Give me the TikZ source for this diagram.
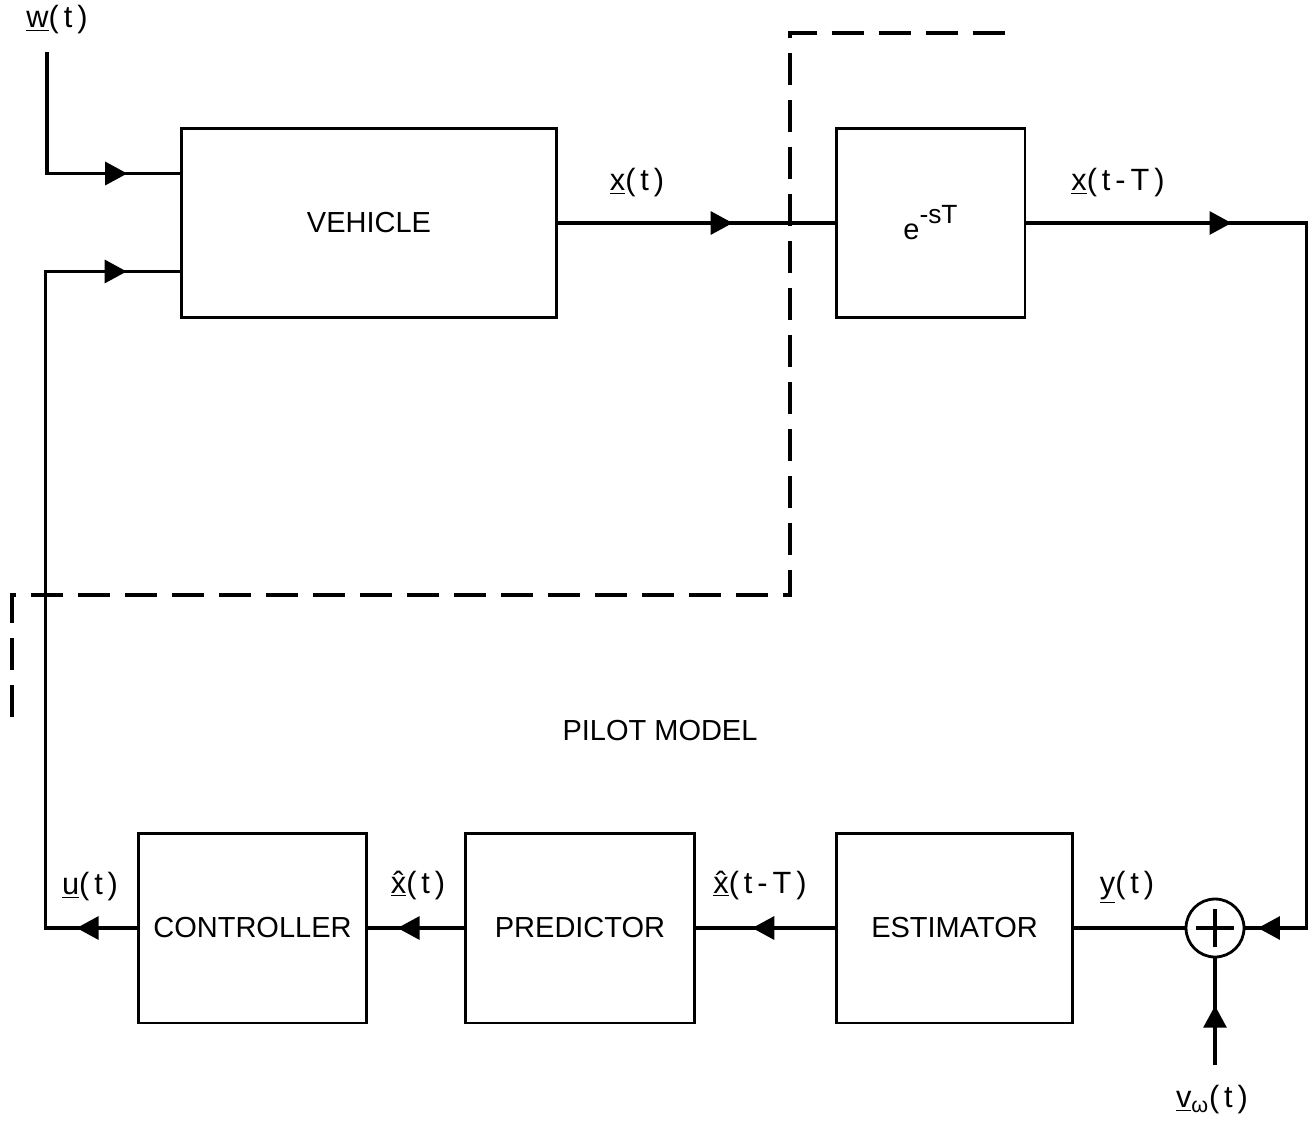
\documentclass[tikz,border=0pt]{standalone}
\usepackage{fontspec}
\setmainfont{Liberation Sans}
\newfontfamily\sigfont[LetterSpace=16]{Liberation Sans}
\usetikzlibrary{arrows.meta,calc,decorations.markings}
\newcommand{\uvec}[1]{\underline{#1}}

\begin{document}
\begin{tikzpicture}[x=0.02cm,y=-0.02cm,
  block/.style={draw,line width=1.7pt,minimum height=3.8cm,inner sep=0pt,
    font=\fontsize{16.5}{20}\selectfont},
  sig/.style={font=\sigfont\fontsize{17.5}{20}\selectfont},
  wire/.style={line width=1.8pt},
  arrowat/.style={postaction={decorate,decoration={markings,
    mark=at position #1 with {\arrow{Triangle[length=0.44cm,width=0.46cm]}}}}}]
  \useasboundingbox (0,0) rectangle (1315,1126);
  % blocks
  \node[block,minimum width=7.52cm] (veh) at (369,223) {VEHICLE};
  \node[block,minimum width=3.78cm] (delay) at (930.5,223)
    {e\raisebox{0.55em}{\fontsize{15}{16}\selectfont -sT}};
  \node[block,minimum width=4.58cm] (ctrl) at (252.5,928) {CONTROLLER};
  \node[block,minimum width=4.6cm] (pred) at (580,928) {PREDICTOR};
  \node[block,minimum width=4.74cm] (est) at (954.5,928) {ESTIMATOR};
  \node[draw,circle,line width=1.6pt,minimum size=1.16cm,inner sep=0pt] (sum) at (1215,928) {};
  \draw[wire] ([xshift=-0.38cm]sum.center) -- ([xshift=0.38cm]sum.center)
    ([yshift=-0.38cm]sum.center) -- ([yshift=0.38cm]sum.center);
  % signals
  \node[sig] (wlbl) at (57,20) {\uvec{w}(t)};
  \node[sig] (xlbl) at (637,183) {\uvec{x}(t)};
  \node[sig] (xdlbl) at (1118,183) {\uvec{x}(t-T)};
  \node[sig] (ulbl) at (90,887) {\uvec{u}(t)};
  \node[sig] (xhlbl) at (418,885) {\uvec{\^x}(t)};
  \node[sig] (xhdlbl) at (760,885) {\uvec{\^x}(t-T)};
  \node[sig] (ylbl) at (1127,887) {\uvec{y}(t)};
  \node[sig] (vlbl) at (1212,1100) {\uvec{v}\textsubscript{ω}(t)};
  \node[font=\fontsize{16.5}{20}\selectfont] (pilot) at (660,731) {PILOT MODEL};
  \coordinate (win) at (47,52);
  \coordinate (vin) at (1215,1065);
  % connectors
  \draw[wire,arrowat=0.794] (win) |- ([yshift=-0.94cm]veh.north west);
  \draw[wire,arrowat=0.068,arrowat=0.94] (ctrl.west) -- ++(-91,0) |- ([yshift=0.96cm]veh.south west);
  \draw[wire,arrowat=0.631] (veh) -- (delay);
  \draw[wire,arrowat=0.196,arrowat=0.988] (delay.east) -- ++(280,0) |- (sum.east);
  \draw[wire] (sum) -- (est);
  \draw[wire,arrowat=0.596] (est) -- (pred);
  \draw[wire,arrowat=0.694] (pred) -- (ctrl);
  \draw[wire,arrowat=0.556] (vin) -- (sum);
  % pilot model boundary
  \draw[line width=2.8pt,dash pattern=on 0.64cm off 0.3cm]
    (12,717) -- (12,595) -- (790,595) -- (790,33) -- (1015,33);
\end{tikzpicture}
\end{document}
